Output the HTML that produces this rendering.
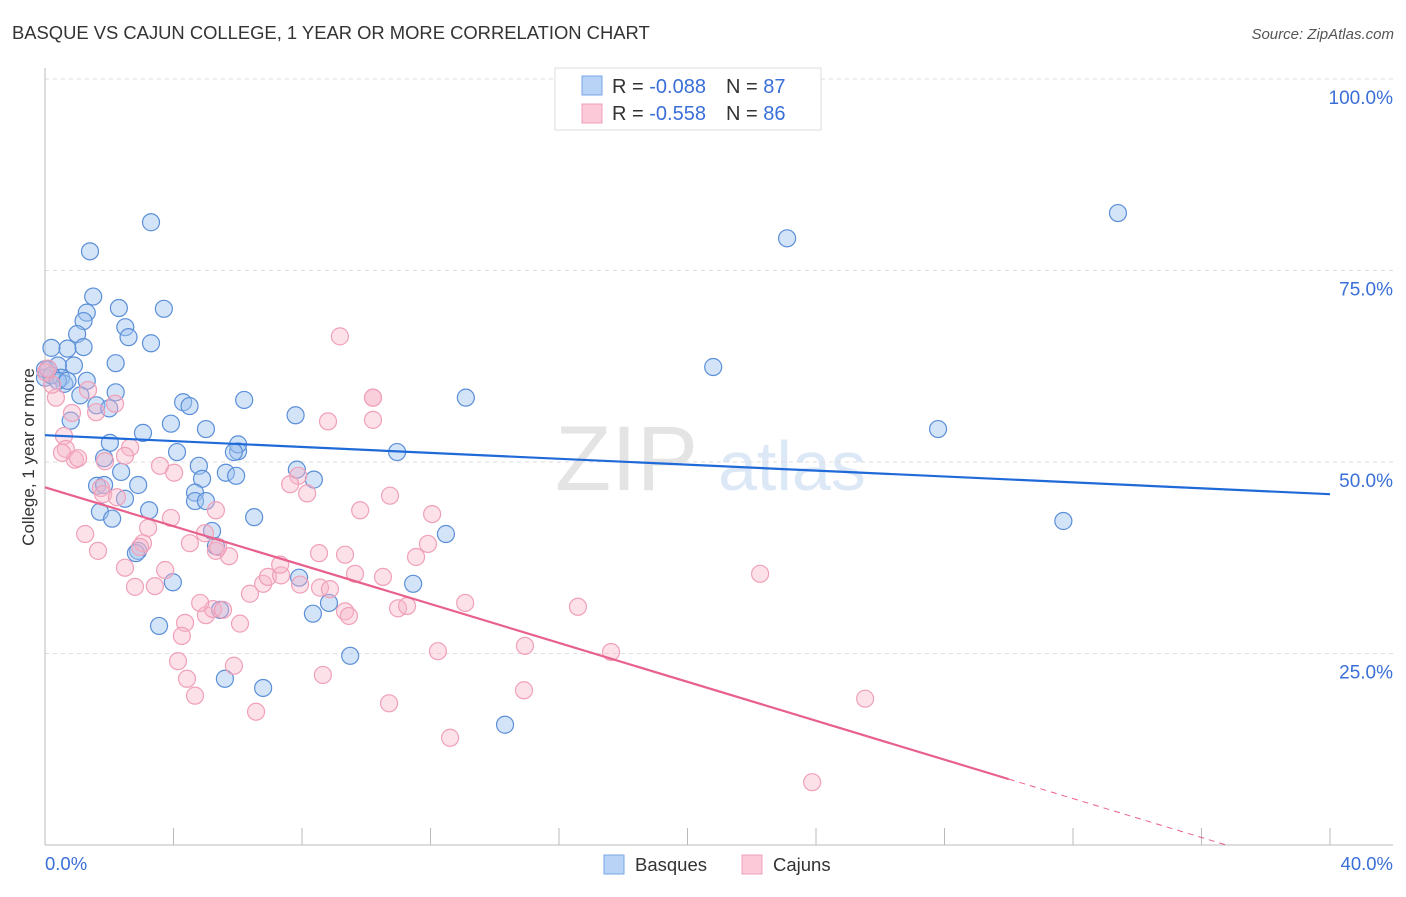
<!DOCTYPE html>
<html><head><meta charset="utf-8"><style>
body{margin:0;background:#fff;font-family:"Liberation Sans",sans-serif}
svg text{font-family:"Liberation Sans",sans-serif}
</style></head><body>
<svg id="c" width="1406" height="892">
<text x="12" y="39" font-size="18.4" fill="#333">BASQUE VS CAJUN COLLEGE, 1 YEAR OR MORE CORRELATION CHART</text>
<text x="1394" y="39" font-size="15" fill="#555" font-style="italic" text-anchor="end">Source: ZipAtlas.com</text>
<text x="555" y="490" font-size="92" fill="#e4e4e4" font-family="Liberation Serif">ZIP</text>
<text x="718" y="490" font-size="70" fill="#dde8f6">atlas</text>
<g id="grid"></g>
<line x1="45" y1="68" x2="45" y2="845" stroke="#bbb"/>
<line x1="45" y1="845" x2="1393" y2="845" stroke="#bbb"/>
<g id="xt"></g>
<text transform="translate(34,457) rotate(-90)" font-size="17" fill="#333" text-anchor="middle">College, 1 year or more</text>
<text x="45" y="870" font-size="18.5" fill="#3a6fd8">0.0%</text>
<text x="1393" y="870" font-size="18.5" fill="#3a6fd8" text-anchor="end">40.0%</text>
<g id="pts"></g>
<g id="lines"></g>
<g>
<rect x="555" y="68" width="266" height="62" fill="#fff" stroke="#ddd"/>
<rect x="582" y="76" width="20" height="19" fill="#b8d3f5" stroke="#7aa6e6"/>
<rect x="582" y="104" width="20" height="19" fill="#fcc9d8" stroke="#f0a0b8"/>
<text x="612" y="93" font-size="20" fill="#333">R = <tspan fill="#3a6fd8">-0.088</tspan><tspan dx="20">N = </tspan><tspan fill="#3a6fd8">87</tspan></text>
<text x="612" y="120" font-size="20" fill="#333">R = <tspan fill="#3a6fd8">-0.558</tspan><tspan dx="20">N = </tspan><tspan fill="#3a6fd8">86</tspan></text>
</g>
<g>
<rect x="604" y="855" width="20" height="19" fill="#b8d3f5" stroke="#7aa6e6"/>
<text x="635" y="871" font-size="18.5" fill="#333">Basques</text>
<rect x="742" y="855" width="20" height="19" fill="#fcc9d8" stroke="#f0a0b8"/>
<text x="773" y="871" font-size="18.5" fill="#333">Cajuns</text>
</g>
</svg>
<script>
const yTicks=[25,50,75,100];
const yTickLabels=["25.0%","50.0%","75.0%","100.0%"];
const xTicks=[4,8,12,16,20,24,28,32,36,40];
const blueX=[3.3,1.4,1.5,3.7,2.3,1.3,1.2,2.5,2.6,1.0,3.3,0.7,1.2,0.2,2.2,0.9,0.4,0.0,0.5,1.3,0.6,2.2,1.1,1.6,0.8,2.0,4.3,4.5,6.2,7.8,13.1,20.8,23.1,33.4,27.8,31.7,10.96,5.01,3.92,3.05,2.02,1.84,2.37,2.9,4.11,4.79,6.01,6.01,5.88,5.63,5.95,4.89,7.84,8.37,1.62,1.84,2.49,4.67,4.67,5.01,3.24,1.71,2.09,6.51,5.2,5.32,12.48,2.9,2.83,3.98,7.91,11.46,8.34,8.84,5.45,3.55,9.5,5.6,6.79,14.32,0.0,0.2,0.4,0.7,0.1];
const blueY=[81.3,77.5,71.6,70.0,70.1,69.5,68.4,67.6,66.3,66.7,65.5,64.8,65.0,64.9,62.9,62.6,62.6,62.1,61.0,60.6,60.2,59.1,58.7,57.4,55.4,57.0,57.8,57.3,58.1,56.1,58.4,62.4,79.2,82.5,54.3,42.3,51.3,54.3,55.0,53.8,52.5,50.5,48.7,47.0,51.3,49.5,51.4,52.3,51.3,48.6,48.2,47.8,49.0,47.7,46.9,47.0,45.2,46.0,44.9,44.9,43.7,43.5,42.6,42.8,41.0,39.0,40.6,38.4,38.1,34.3,34.9,34.1,30.2,31.6,30.7,28.6,24.7,21.7,20.5,15.7,61.0,61.3,60.6,60.6,62.1];
const pinkX=[9.18,10.21,8.81,2.18,1.59,1.34,0.34,0.22,0.03,0.09,0.59,0.84,0.65,0.93,1.03,0.53,1.87,2.65,2.49,3.58,4.02,1.74,1.81,2.24,1.25,1.65,2.49,2.8,3.42,3.05,2.96,3.21,3.74,3.92,4.51,4.98,5.32,5.73,5.32,5.39,5.01,5.23,5.54,6.07,4.83,4.36,4.26,4.14,4.67,5.88,6.38,6.57,6.79,6.94,7.35,7.32,7.88,7.94,8.16,8.56,8.87,8.53,10.21,9.34,9.34,9.65,9.81,9.46,10.21,10.74,10.52,10.99,11.27,11.55,11.92,12.05,12.23,12.61,13.08,14.94,14.91,16.59,17.62,22.26,25.53,23.88,4.42,8.65,10.71,7.63];
const pinkY=[66.4,58.4,55.3,57.6,56.5,59.4,58.4,60.1,61.7,62.2,53.4,56.4,51.7,50.3,50.5,51.2,50.1,51.9,50.8,49.5,48.6,46.6,45.8,45.4,40.6,38.4,36.2,33.7,33.8,39.4,38.9,41.4,35.9,42.7,39.4,40.7,38.4,37.7,43.7,38.9,30.0,30.8,30.7,28.9,31.6,29.0,27.3,24.0,19.5,23.4,32.8,17.4,34.1,35.0,35.2,36.6,48.2,34.0,45.9,33.6,33.4,38.1,55.5,37.9,30.5,35.4,43.7,29.9,58.4,45.6,35.0,30.9,31.2,37.6,39.3,43.2,25.3,14.0,31.6,26.0,20.2,31.1,25.2,35.4,19.1,8.2,21.7,22.2,18.5,47.1];
const blueLine=[53.5,45.8];
const pinkLine=[46.7,-1.27]; // intercept, slope per %
function sx(v){return 45+v/40*1285;}
function sy(v){return 845-v/100*766;}
const NS='http://www.w3.org/2000/svg';
function mk(t,a,p){const e=document.createElementNS(NS,t);for(const k in a)e.setAttribute(k,a[k]);p.appendChild(e);return e;}
const grid=document.getElementById('grid');
yTicks.forEach((t,i)=>{
 const l=mk('line',{x1:45,x2:1393,y1:sy(t),y2:sy(t),stroke:'#ddd','stroke-dasharray':'4,4'},grid);
 
 
 const tx=mk('text',{x:1393,y:sy(t)+25,'font-size':19,fill:'#3a6fd8','text-anchor':'end'},grid);
 tx.textContent=yTickLabels[i];
 
 
});
const xt=document.getElementById('xt');
xTicks.forEach(t=>{
 const l=mk('line',{x1:sx(t),x2:sx(t),y1:828,y2:845,stroke:'#bbb'},xt);
 
 
});
const pts=document.getElementById('pts');
blueX.forEach((x,i)=>{
 const c=mk('circle',{cx:sx(x),cy:sy(blueY[i]),r:8.5,fill:'rgba(160,196,240,0.45)',stroke:'#5b8fd8','stroke-width':1.2},pts);
 
 
});
pinkX.forEach((x,i)=>{
 const c=mk('circle',{cx:sx(x),cy:sy(pinkY[i]),r:8.5,fill:'rgba(248,180,200,0.4)',stroke:'#f0a0b8','stroke-width':1.2},pts);
 
 
});
const lg=document.getElementById('lines');
const bl=mk('line',{x1:sx(0),y1:sy(blueLine[0]),x2:sx(40),y2:sy(blueLine[1]),stroke:'#1f6ad8','stroke-width':2.2},lg);


const pk=x=>pinkLine[0]+pinkLine[1]*x;
const pl=mk('line',{x1:sx(0),y1:sy(pk(0)),x2:sx(30.0),y2:sy(pk(30.0)),stroke:'#e8608c','stroke-width':2.2},lg);


const pd=mk('line',{x1:sx(30.0),y1:sy(pk(30.0)),x2:sx(36.8),y2:sy(pk(36.8)),stroke:'#e8608c','stroke-width':1,'stroke-dasharray':'6,5'},lg);


</script>
</body></html>
